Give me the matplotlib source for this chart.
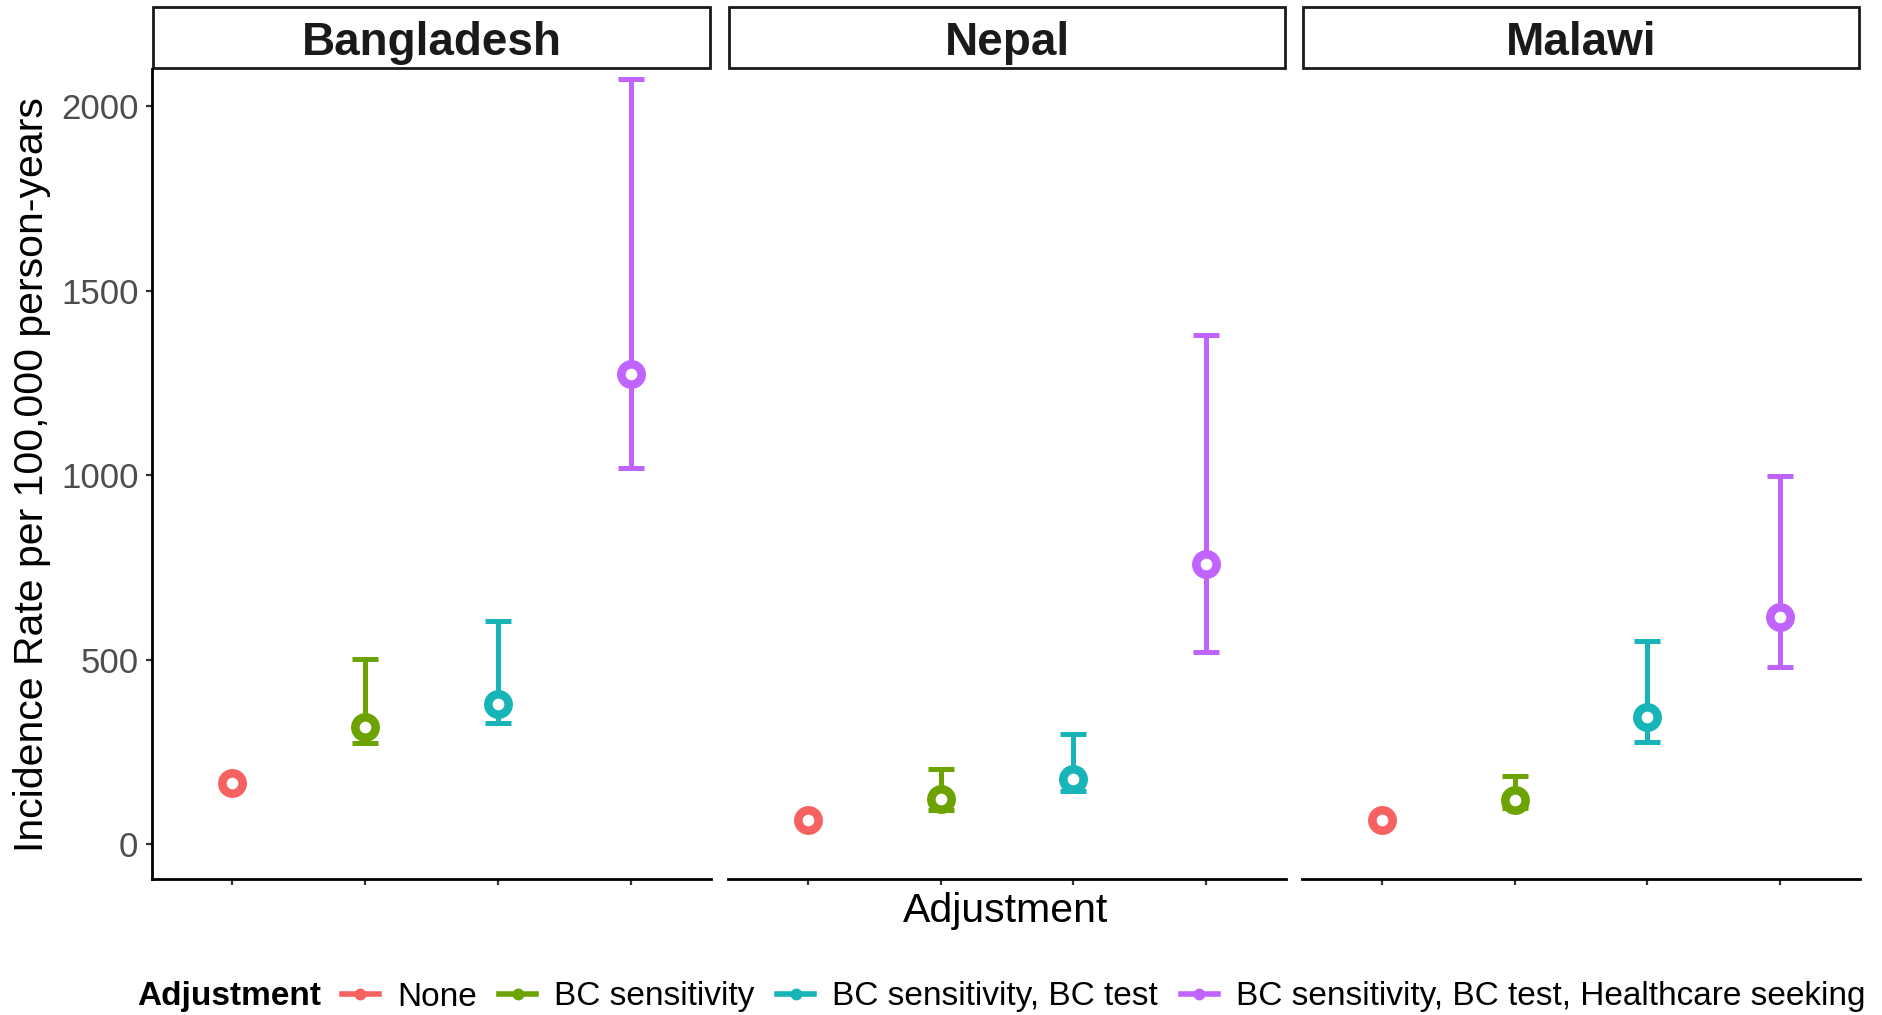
import numpy as np
import matplotlib
matplotlib.use('Agg')
import matplotlib.pyplot as plt
from matplotlib.patches import Rectangle
from matplotlib.lines import Line2D

plt.rcParams['font.family'] = ['Liberation Sans', 'DejaVu Sans']

categories = ['None', 'BC sensitivity', 'BC sensitivity, BC test',
              'BC sensitivity, BC test, Healthcare seeking']
countries = ['Bangladesh', 'Nepal', 'Malawi']
colors = ['#F5625F', '#6CA300', '#17B4B8', '#C063FF']

bangladesh_rate = [166, 317, 381, 1275]
bangladesh_lower = [np.nan, 274, 330, 1021]
bangladesh_upper = [np.nan, 502, 605, 2075]

nepal_rate = [65, 124, 177, 760]
nepal_lower = [np.nan, 94, 145, 520]
nepal_upper = [np.nan, 205, 300, 1379]

malawi_rate = [65, 120, 345, 615]
malawi_lower = [np.nan, 98, 276, 481]
malawi_upper = [np.nan, 185, 550, 998]

rates = [bangladesh_rate, nepal_rate, malawi_rate]
lowers = [bangladesh_lower, nepal_lower, malawi_lower]
uppers = [bangladesh_upper, nepal_upper, malawi_upper]

W, H = 1883, 1015
fig = plt.figure(figsize=(W / 100, H / 100), dpi=100)

panels = [(152, 711), (728, 1286), (1302, 1860)]
top_px, bottom_px = 69, 879
axes = []
for i, (x0, x1) in enumerate(panels):
    ax = fig.add_axes([x0 / W, 1 - bottom_px / H, (x1 - x0) / W, (bottom_px - top_px) / H])
    axes.append(ax)
    xs = np.arange(1, 5)
    for j in range(4):
        if not np.isnan(lowers[i][j]):
            ax.errorbar(xs[j], rates[i][j],
                        yerr=[[rates[i][j] - lowers[i][j]], [uppers[i][j] - rates[i][j]]],
                        fmt='none', ecolor=colors[j], elinewidth=3.6,
                        capsize=9.5, capthick=3.6, zorder=2)
        ax.plot(xs[j], rates[i][j], 'o', ms=14.6, mew=6.2, mec=colors[j],
                mfc='white', zorder=3)
    ax.set_xlim(0.4, 4.6)
    ax.set_ylim(-94, 2101)
    ax.set_xticks(xs)
    ax.set_xticklabels([])
    ax.set_yticks([0, 500, 1000, 1500, 2000])
    for s in ['top', 'right']:
        ax.spines[s].set_visible(False)
    ax.spines['bottom'].set_linewidth(2)
    ax.spines['left'].set_linewidth(2)
    ax.tick_params(axis='x', length=4.5, width=1.6, color='#333333')
    ax.tick_params(axis='y', length=4.3, width=1.6, color='#333333',
                   labelsize=25, labelcolor='#4D4D4D', pad=5.5)
    if i > 0:
        ax.spines['left'].set_visible(False)
        ax.tick_params(axis='y', left=False, labelleft=False)
    strip_h = 61 / (bottom_px - top_px)
    rect = Rectangle((0.002, 1.0015), 0.996, strip_h, transform=ax.transAxes,
                     facecolor='white', edgecolor='#1A1A1A', lw=2, clip_on=False)
    ax.add_patch(rect)
    ax.text(0.5, 1.0015 + strip_h / 2 - 6 / (bottom_px - top_px), countries[i],
            transform=ax.transAxes, ha='center', va='center', fontsize=33,
            fontweight='bold', color='#1A1A1A')

fig.text(32 / W, 1 - 475 / H, 'Incidence Rate per 100,000 person-years',
         rotation=90, ha='center', va='center', fontsize=29.5)
fig.text(1006 / W, 1 - 911 / H, 'Adjustment', ha='center', va='center', fontsize=29.5)

fig.text(137 / W, 1 - 997 / H, 'Adjustment', ha='left', va='center',
         fontsize=24, fontweight='bold')
handles = [Line2D([], [], color=c, lw=4, marker='o', ms=7.5, mec=c, mfc=c)
           for c in colors]
fig.legend(handles, categories, loc='center left', bbox_to_anchor=(342 / W, 1 - 997 / H),
           ncol=4, frameon=False, fontsize=24, borderpad=0, borderaxespad=0,
           handlelength=1.1, handletextpad=0.55, columnspacing=0.68)

fig.savefig('out.png', dpi=100)
